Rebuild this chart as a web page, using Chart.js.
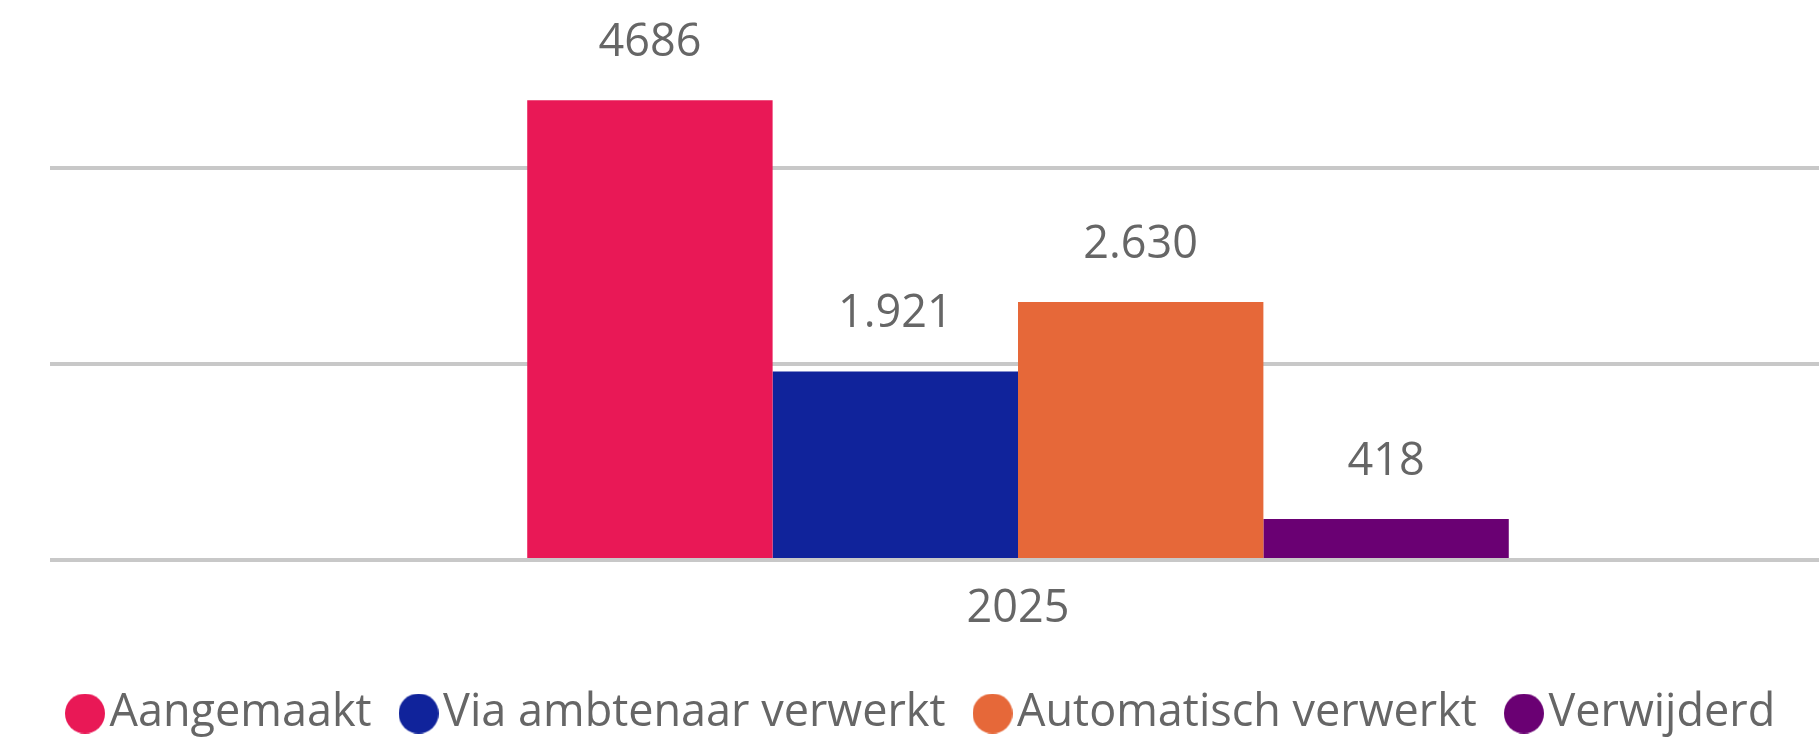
<!DOCTYPE html>
<html>
<head>
<meta charset="utf-8">
<script src="https://cdn.jsdelivr.net/npm/chart.js@4"></script>
<style>
    body { margin: 0; background: #ffffff; overflow: hidden; }
    #wrap { position: relative; width: 1986px; height: 745px; }
</style>
</head>
<body>
<div id="wrap"><canvas id="grafico"></canvas></div>
<script>
// data
const categories = ['2025'];
const seriesNames = ['Aangemaakt', 'Via ambtenaar verwerkt', 'Automatisch verwerkt', 'Verwijderd'];
const seriesValues = [4686, 1921, 2630, 418];
const valueLabels = ['4686', '1.921', '2.630', '418'];
const seriesColors = ['#E91856', '#10239B', '#E66839', '#6A0073'];
const gridTicks = [0, 2000, 4000];

const fontFamily = "'Open Sans', 'Noto Sans', sans-serif";
const textColor = '#666666';
const fontSize = 45;

// round legend markers, drawn once as small canvases
function makeDot(color) {
    const c = document.createElement('canvas');
    c.width = 40;
    c.height = 40;
    const g = c.getContext('2d');
    g.fillStyle = color;
    g.beginPath();
    g.arc(20, 20, 20, 0, Math.PI * 2);
    g.fill();
    return c;
}
const dots = seriesColors.map(makeDot);

const datasets = seriesNames.map((name, i) => ({
    label: name,
    data: [seriesValues[i]],
    backgroundColor: seriesColors[i],
    borderWidth: 0,
    categoryPercentage: 0.507,
    barPercentage: 1.0
}));

// value labels above each bar
const valueLabelPlugin = {
    id: 'valueLabels',
    afterDatasetsDraw(chart) {
        const ctx = chart.ctx;
        ctx.save();
        ctx.font = fontSize + 'px ' + fontFamily;
        ctx.fillStyle = textColor;
        ctx.textAlign = 'center';
        ctx.textBaseline = 'middle';
        chart.data.datasets.forEach((ds, i) => {
            const bar = chart.getDatasetMeta(i).data[0];
            ctx.fillText(valueLabels[i], bar.x, bar.y - 57);
        });
        ctx.restore();
    }
};

const config = {
    type: 'bar',
    data: {
        labels: categories,
        datasets: datasets
    },
    options: {
        responsive: true,
        maintainAspectRatio: false,
        animation: false,
        layout: {
            padding: { left: 38, right: 0, top: 0, bottom: -1 }
        },
        scales: {
            x: {
                afterFit(scale) { scale.height = 86; },
                grid: { display: false },
                border: { display: false },
                ticks: {
                    color: textColor,
                    font: { family: fontFamily, size: fontSize },
                    padding: 14
                }
            },
            y: {
                min: 0,
                max: 5709,
                afterFit(scale) { scale.width = 12; },
                afterBuildTicks(scale) {
                    scale.ticks = gridTicks.map(v => ({ value: v }));
                },
                ticks: { display: false },
                border: { display: false },
                grid: {
                    color: '#c8c8c8',
                    lineWidth: 4,
                    drawTicks: false
                }
            }
        },
        plugins: {
            tooltip: { enabled: false },
            legend: {
                position: 'bottom',
                align: 'start',
                labels: {
                    usePointStyle: true,
                    pointStyleWidth: 4,
                    boxHeight: 28,
                    padding: 45,
                    color: textColor,
                    font: { family: fontFamily, size: fontSize },
                    generateLabels(chart) {
                        return chart.data.datasets.map((ds, i) => ({
                            text: ds.label,
                            fillStyle: seriesColors[i],
                            strokeStyle: seriesColors[i],
                            lineWidth: 0,
                            pointStyle: dots[i],
                            fontColor: textColor,
                            hidden: false,
                            datasetIndex: i
                        }));
                    }
                }
            }
        }
    },
    plugins: [valueLabelPlugin]
};

const grafico = new Chart(document.getElementById('grafico'), config);
</script>
</body>
</html>
